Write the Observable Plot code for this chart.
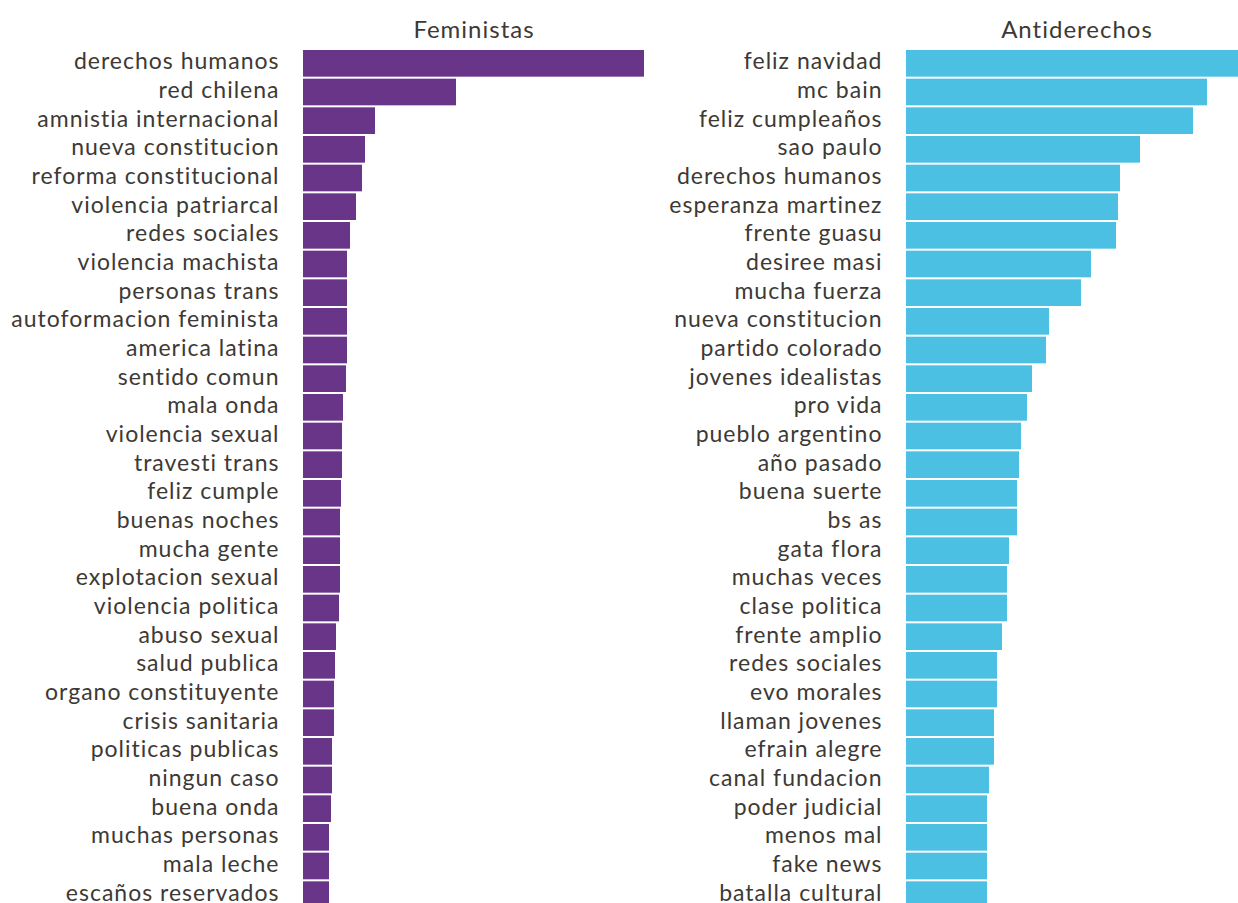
<!DOCTYPE html>
<html>
<head>
<meta charset="utf-8">
<script src="https://cdn.jsdelivr.net/npm/d3@7"></script>
<script src="https://cdn.jsdelivr.net/npm/@observablehq/plot@0.6"></script>
<style>
  html, body { margin: 0; padding: 0; background: #fff; overflow: hidden; width: 1238px; height: 903px; }
  #wrap { position: relative; width: 1238px; height: 903px; overflow: hidden; }
  #wrap > div { position: absolute; top: 0; width: 700px; }
  #wrap svg { max-width: none !important; }
</style>
</head>
<body>
<div id="wrap"><div id="left"></div><div id="right"></div></div>
<script>
const feministasTitle = "Feministas";
const antiderechosTitle = "Antiderechos";

const feministasTerms = [
  "derechos humanos", "red chilena", "amnistia internacional", "nueva constitucion",
  "reforma constitucional", "violencia patriarcal", "redes sociales", "violencia machista",
  "personas trans", "autoformacion feminista", "america latina", "sentido comun",
  "mala onda", "violencia sexual", "travesti trans", "feliz cumple", "buenas noches",
  "mucha gente", "explotacion sexual", "violencia politica", "abuso sexual",
  "salud publica", "organo constituyente", "crisis sanitaria", "politicas publicas",
  "ningun caso", "buena onda", "muchas personas", "mala leche", "escaños reservados"
];
const feministasValues = [
  341, 153, 72, 62, 59, 53, 47, 44, 44, 44, 44, 43, 40, 39, 39, 38, 37,
  37, 37, 36, 33, 32, 31, 31, 29, 29, 28, 26, 26, 26
];

const antiderechosTerms = [
  "feliz navidad", "mc bain", "feliz cumpleaños", "sao paulo", "derechos humanos",
  "esperanza martinez", "frente guasu", "desiree masi", "mucha fuerza",
  "nueva constitucion", "partido colorado", "jovenes idealistas", "pro vida",
  "pueblo argentino", "año pasado", "buena suerte", "bs as", "gata flora",
  "muchas veces", "clase politica", "frente amplio", "redes sociales", "evo morales",
  "llaman jovenes", "efrain alegre", "canal fundacion", "poder judicial",
  "menos mal", "fake news", "batalla cultural"
];
const antiderechosValues = [
  339, 301, 287, 234, 214, 212, 210, 185, 175, 143, 140, 126, 121, 115, 113, 111,
  111, 103, 101, 101, 96, 91, 91, 88, 88, 83, 81, 81, 81, 81
];

const FONT = "Lato, 'Noto Sans', sans-serif";
const TEXT = "#3d3935";

function panel(terms, values, title, color, marginLeft) {
  const data = terms.map((t, i) => ({term: t, value: values[i]}));
  return Plot.plot({
    width: marginLeft + 341 + 6,
    height: 910,
    marginLeft,
    marginRight: 6,
    marginTop: 48,
    marginBottom: 0,
    style: {fontFamily: FONT, fontSize: "23px", color: TEXT, background: "transparent", maxWidth: "none", letterSpacing: "1px"},
    x: {domain: [0, 341], axis: null},
    y: {domain: terms, padding: 0.07, round: false, label: null},
    marks: [
      Plot.barX(data, {x: "value", y: "term", fill: color}),
      Plot.axisY({tickSize: 0, tickPadding: 24, dy: -2, label: null, fontSize: 23, fill: TEXT}),
      Plot.text([title], {frameAnchor: "top", dy: -11, lineAnchor: "bottom", fontSize: 24, fill: TEXT})
    ]
  });
}

const left = panel(feministasTerms, feministasValues, feministasTitle, "#693589", 303);
document.getElementById("left").style.left = "0px";
document.getElementById("left").appendChild(left);

const right = panel(antiderechosTerms, antiderechosValues, antiderechosTitle, "#4bc0e3", 306);
document.getElementById("right").style.left = "600px";
document.getElementById("right").appendChild(right);
</script>
</body>
</html>
